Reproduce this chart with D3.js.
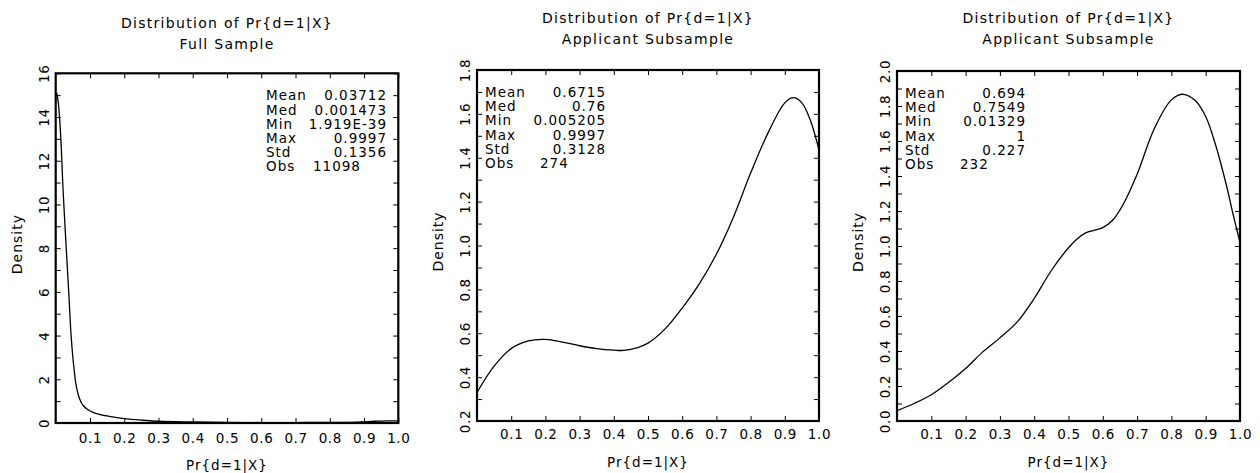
<!DOCTYPE html>
<html>
<head>
<meta charset="utf-8">
<script src="https://cdn.jsdelivr.net/npm/d3@7"></script>
<style>
  body { margin: 0; background: #fff; }
  svg { display: block; }
  text { font-family: "DejaVu Sans", sans-serif; fill: #000; }
  .tick line { stroke: #000; stroke-width: 1; }
</style>
</head>
<body>
<svg id="chart" width="1260" height="473"></svg>
<script>
// chart values
var titleText = "Distribution of Pr{d=1|X}";
var subTitles = ["Full Sample", "Applicant Subsample", "Applicant Subsample"];
var xLabel = "Pr{d=1|X}";
var yLabel = "Density";
var xTicks = [0.1, 0.2, 0.3, 0.4, 0.5, 0.6, 0.7, 0.8, 0.9, 1.0];

var statNames = ["Mean", "Med", "Min", "Max", "Std", "Obs"];
var stats1 = ["0.03712", "0.001473", "1.919E-39", "0.9997", "0.1356", "11098"];
var stats2 = ["0.6715", "0.76", "0.005205", "0.9997", "0.3128", "274"];
var stats3 = ["0.694", "0.7549", "0.01329", "1", "0.227", "232"];

var yRange1 = [0, 16], yMajor1 = [0, 2, 4, 6, 8, 10, 12, 14, 16];
var yRange2 = [0.2, 1.8], yMajor2 = [0.2, 0.4, 0.6, 0.8, 1.0, 1.2, 1.4, 1.6, 1.8];
var yRange3 = [0, 2.0], yMajor3 = [0, 0.2, 0.4, 0.6, 0.8, 1.0, 1.2, 1.4, 1.6, 1.8, 2.0];

// density curves, [pr, density]
var density1 = [[0.003, 15.1], [0.008, 14.6], [0.015, 13.0], [0.022, 10.5], [0.03, 8.2],
  [0.038, 6.0], [0.045, 4.0], [0.052, 2.7], [0.06, 1.7], [0.07, 1.1], [0.08, 0.8],
  [0.1, 0.55], [0.13, 0.38], [0.17, 0.27], [0.2, 0.2], [0.25, 0.13], [0.3, 0.08],
  [0.4, 0.05], [0.5, 0.03], [0.6, 0.02], [0.7, 0.02], [0.8, 0.03], [0.88, 0.04],
  [0.93, 0.08], [0.97, 0.1], [1.0, 0.1]];
var density2 = [[0, 0.33], [0.05, 0.45], [0.1, 0.53], [0.15, 0.565], [0.2, 0.572],
  [0.25, 0.56], [0.3, 0.543], [0.35, 0.53], [0.4, 0.523], [0.43, 0.522], [0.47, 0.535],
  [0.5, 0.555], [0.55, 0.62], [0.6, 0.715], [0.65, 0.825], [0.7, 0.96], [0.75, 1.13],
  [0.8, 1.33], [0.85, 1.51], [0.9, 1.65], [0.925, 1.674], [0.95, 1.65], [0.975, 1.57],
  [1.0, 1.435]];
var density3 = [[0, 0.059], [0.05, 0.1], [0.1, 0.15], [0.15, 0.22], [0.2, 0.30],
  [0.25, 0.395], [0.3, 0.475], [0.35, 0.565], [0.4, 0.70], [0.45, 0.86], [0.5, 0.99],
  [0.525, 1.04], [0.55, 1.075], [0.6, 1.105], [0.63, 1.15], [0.66, 1.24], [0.7, 1.41],
  [0.75, 1.67], [0.8, 1.835], [0.835, 1.867], [0.87, 1.83], [0.9, 1.74], [0.93, 1.57],
  [0.96, 1.35], [0.98, 1.18], [1.0, 1.02]];

var svg = d3.select("#chart");

function drawPanel(opt) {
    var x = d3.scaleLinear().domain([0, 1]).range([opt.left, opt.right]);
    var y = d3.scaleLinear().domain(opt.yRange).range([opt.bottom, opt.top]);
    var g = svg.append("g");

    // inward ticks on all four sides
    g.append("g").attr("transform", "translate(0," + opt.bottom + ")")
        .call(d3.axisBottom(x).tickValues(xTicks).tickSize(-5).tickPadding(opt.xPad)
            .tickFormat(d3.format(".1f")));
    g.append("g").attr("transform", "translate(0," + opt.top + ")")
        .call(d3.axisTop(x).tickValues(xTicks).tickSize(-5).tickFormat(""));
    g.append("g").attr("transform", "translate(" + opt.left + ",0)")
        .call(d3.axisLeft(y).tickValues(opt.yMinor).tickSize(-5).tickFormat(""));
    g.append("g").attr("transform", "translate(" + opt.right + ",0)")
        .call(d3.axisRight(y).tickValues(opt.yMinor).tickSize(-5).tickFormat(""));

    // rotated y labels
    var yl = g.append("g").attr("transform", "translate(" + opt.left + ",0)")
        .call(d3.axisLeft(y).tickValues(opt.yMajor).tickSize(0).tickFormat(opt.yFmt));
    yl.selectAll("text")
        .attr("x", null).attr("dy", null)
        .attr("text-anchor", "middle")
        .attr("dominant-baseline", "central")
        .attr("transform", "translate(-12,0) rotate(-90)");

    g.selectAll(".domain").remove();
    g.selectAll(".tick text").style("font-size", "13.5px").style("letter-spacing", "0.6px")
        .style("font-family", "DejaVu Sans, sans-serif");

    // frame
    g.append("rect")
        .attr("x", opt.left).attr("y", opt.top)
        .attr("width", opt.right - opt.left).attr("height", opt.bottom - opt.top)
        .attr("fill", "none").attr("stroke", "#000").attr("stroke-width", 2.2);

    var line = d3.line()
        .x(function (d) { return x(d[0]); })
        .y(function (d) { return y(d[1]); })
        .curve(d3.curveCatmullRom.alpha(0.5));
    g.append("path")
        .datum(opt.data)
        .attr("d", line)
        .attr("fill", "none").attr("stroke", "#000").attr("stroke-width", 1.3);

    // titles
    var cx = (opt.left + opt.right) / 2;
    g.append("text").attr("x", cx).attr("y", opt.titleY)
        .attr("text-anchor", "middle").style("font-size", "14px").style("letter-spacing", "1.3px")
        .text(titleText);
    g.append("text").attr("x", cx).attr("y", opt.titleY + 21)
        .attr("text-anchor", "middle").style("font-size", "14px").style("letter-spacing", "1.3px")
        .text(opt.sub);

    g.append("text").attr("x", cx).attr("y", opt.xLabelY)
        .attr("text-anchor", "middle").style("font-size", "13.5px").style("letter-spacing", "1px")
        .text(xLabel);
    g.append("text")
        .attr("transform", "translate(" + (opt.left - 34) + "," + ((opt.top + opt.bottom) / 2 - 4) + ") rotate(-90)")
        .attr("text-anchor", "middle").style("font-size", "14px").style("letter-spacing", "1px")
        .text(yLabel);

    // stats box
    var st = g.append("g").style("font-size", "13.5px").style("letter-spacing", "1px");
    statNames.forEach(function (name, i) {
        var yy = opt.top + 27 + i * 14.2;
        st.append("text").attr("x", opt.statX).attr("y", yy).text(name);
        if (i < 5) {
            st.append("text").attr("x", opt.statX + 121).attr("y", yy)
                .attr("text-anchor", "end").text(opt.stats[i]);
        } else {
            st.append("text").attr("x", opt.statX + opt.obsOff).attr("y", yy).text(opt.stats[i]);
        }
    });
}

drawPanel({left: 55.7, right: 398.3, top: 73.3, bottom: 423, yRange: yRange1,
    yMajor: yMajor1, yMinor: d3.range(0, 17), yFmt: d3.format("d"),
    data: density1, stats: stats1, sub: subTitles[0], statX: 266, obsOff: 47,
    titleY: 28, xPad: 10, xLabelY: 470});
drawPanel({left: 477, right: 819, top: 70, bottom: 421, yRange: yRange2,
    yMajor: yMajor2, yMinor: d3.range(2, 19).map(function (d) { return d / 10; }),
    yFmt: d3.format(".1f"),
    data: density2, stats: stats2, sub: subTitles[1], statX: 485, obsOff: 55,
    titleY: 23, xPad: 8, xLabelY: 467});
drawPanel({left: 897, right: 1240, top: 71, bottom: 421, yRange: yRange3,
    yMajor: yMajor3, yMinor: d3.range(0, 21).map(function (d) { return d / 10; }),
    yFmt: d3.format(".1f"),
    data: density3, stats: stats3, sub: subTitles[2], statX: 905, obsOff: 55,
    titleY: 23, xPad: 8, xLabelY: 467});
</script>
</body>
</html>
